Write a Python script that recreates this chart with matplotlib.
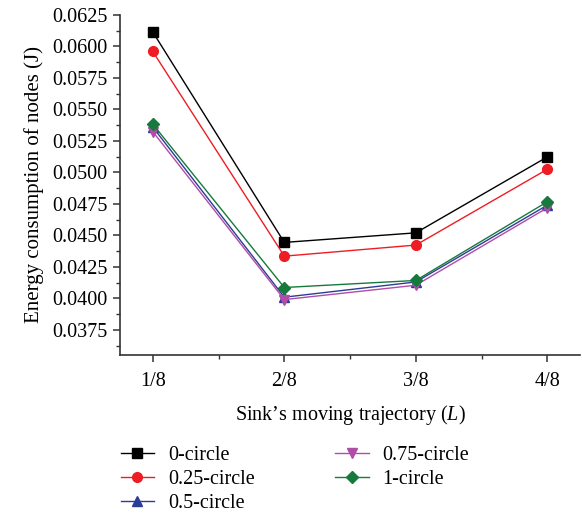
import matplotlib
matplotlib.use("Agg")
import matplotlib.pyplot as plt
from matplotlib.ticker import MultipleLocator, FormatStrFormatter

plt.rcParams['font.family'] = ['Liberation Serif', 'DejaVu Serif']
plt.rcParams['mathtext.fontset'] = 'custom'
plt.rcParams['mathtext.it'] = 'Liberation Serif:italic'
plt.rcParams['mathtext.rm'] = 'Liberation Serif'

# data
x_pos = [1, 2, 3, 4]
x_labels = ['1/8', '2/8', '3/8', '4/8']
c0 = [0.06115, 0.04444, 0.0452, 0.05123]
c025 = [0.0596, 0.04335, 0.04423, 0.05025]
c05 = [0.0536, 0.04009, 0.0413, 0.0474]
c075 = [0.05324, 0.0399, 0.04104, 0.04719]
c1 = [0.05383, 0.04086, 0.04142, 0.04767]

names = ['0-circle', '0.25-circle', '0.5-circle', '0.75-circle', '1-circle']
colors = ['#000000', '#ee1d24', '#2b3d97', '#b14ca7', '#177a3c']
markers = ['s', 'o', '^', 'v', 'D']
sizes = [6.5, 7, 7, 7, 6]

fig = plt.figure(figsize=(5.82, 5.16), dpi=100)
ax = fig.add_axes([0.206, 0.312, 0.791, 0.659])

for vals, name, col, mk, ms in zip([c0, c025, c05, c075, c1], names, colors, markers, sizes):
    ax.plot(x_pos, vals, color=col, marker=mk, markersize=ms, linewidth=1.0, label=name)

ax.set_xlim(0.75, 4.25)
ax.set_ylim(0.0355, 0.0625)
ax.set_xticks(x_pos)
ax.set_xticklabels(x_labels)
ax.xaxis.set_minor_locator(MultipleLocator(0.5))
ax.yaxis.set_major_locator(MultipleLocator(0.0025))
ax.yaxis.set_minor_locator(MultipleLocator(0.00125))
ax.yaxis.set_major_formatter(FormatStrFormatter('%.4f'))

for s in ['top', 'right']:
    ax.spines[s].set_visible(False)
for s in ['left', 'bottom']:
    ax.spines[s].set_color('#333333')
    ax.spines[s].set_linewidth(1.2)
ax.tick_params(which='major', direction='out', length=5, width=1.1, labelsize=14.5, colors='#333333', labelcolor='black')
ax.tick_params(which='minor', direction='out', length=3, width=1.0, colors='#333333')
ax.tick_params(axis='x', pad=7)
ax.tick_params(axis='y', pad=4)

ax.set_xlabel('Sink\u2019s moving trajectory ($L$)', fontsize=14.5, labelpad=9)
ax.set_ylabel('Energy consumption of nodes (J)', fontsize=15, labelpad=6)

fig.legend(loc='upper left', bbox_to_anchor=(0.19, 0.156), ncol=2, frameon=False,
           fontsize=14.5, handlelength=1.65, columnspacing=4.0, labelspacing=0.25,
           borderpad=0, handletextpad=0.7, bbox_transform=fig.transFigure)

fig.savefig('out.png', dpi=100)
